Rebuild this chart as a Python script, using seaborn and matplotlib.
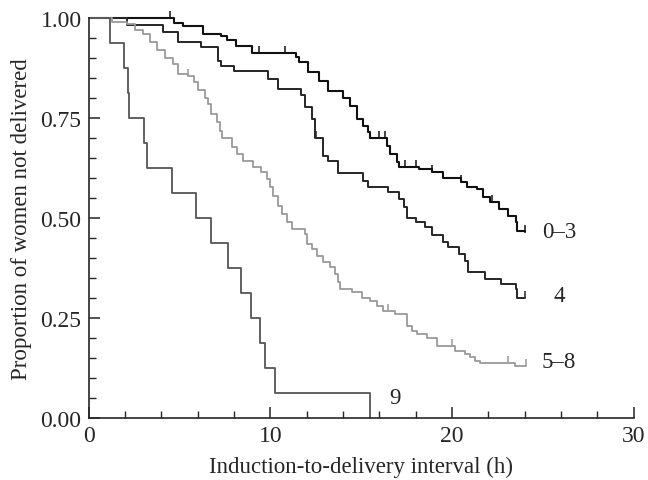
import numpy as np
import pandas as pd
import matplotlib
matplotlib.use("Agg")
import matplotlib.pyplot as plt
import seaborn as sns

# Kaplan-Meier step points (time in h, proportion not delivered)
t_03 = [0, 4.7, 5.2, 6.3, 7.3, 7.6, 8.1, 9.0, 11.4, 11.6, 12.1, 12.7, 13.2, 14.0, 14.4, 14.75,
        15.1, 15.4, 15.5, 16.4, 16.6, 16.95, 17.1, 18.2, 18.9, 19.5, 20.5, 20.8, 21.4, 21.7,
        22.1, 22.6, 23.1, 23.5, 23.6, 24.0]
s_03 = [1.0, 0.988, 0.98, 0.96, 0.955, 0.945, 0.93, 0.913, 0.902, 0.89, 0.865, 0.843, 0.818,
        0.80, 0.78, 0.748, 0.73, 0.715, 0.70, 0.68, 0.66, 0.64, 0.628, 0.623, 0.614, 0.60,
        0.589, 0.578, 0.5725, 0.5525, 0.54, 0.5225, 0.506, 0.49, 0.468, 0.465]
c_03 = [4.5, 9.4, 10.8, 16.0, 16.3, 17.4, 18.0, 18.9, 20.5, 22.2, 24.0]

t_4 = [0, 2.1, 4.1, 4.9, 6.2, 7.1, 7.3, 8.0, 9.9, 10.4, 11.7, 11.9, 12.3, 12.45, 12.9, 13.2,
       13.7, 15.1, 15.4, 16.5, 17.1, 17.35, 17.5, 18.0, 18.5, 18.9, 19.5, 19.8, 20.4, 20.7,
       20.9, 21.8, 22.7, 23.5, 23.6, 24.0]
s_4 = [1.0, 0.983, 0.965, 0.94, 0.927, 0.893, 0.88, 0.868, 0.8475, 0.8225, 0.808, 0.778,
       0.7475, 0.70, 0.656, 0.643, 0.612, 0.593, 0.578, 0.566, 0.5475, 0.527, 0.50, 0.489,
       0.477, 0.458, 0.44, 0.427, 0.41, 0.393, 0.366, 0.3475, 0.335, 0.3225, 0.30, 0.30]
c_4 = [12.5, 24.0]

t_58 = [0, 1.3, 2.1, 2.55, 3.0, 3.4, 3.75, 4.2, 4.65, 4.95, 5.5, 5.8, 6.0, 6.4, 6.6, 6.72,
        7.05, 7.23, 7.33, 7.88, 8.15, 8.5, 9.06, 9.5, 9.8, 9.98, 10.17, 10.44, 10.63, 10.9,
        11.18, 11.9, 12.0, 12.28, 12.55, 12.9, 13.28, 13.56, 13.74, 13.83, 14.48, 15.03,
        15.5, 15.85, 16.2, 16.86, 17.5, 17.78, 18.05, 18.6, 19.15, 20.16, 20.7, 20.98,
        21.26, 21.53, 23.45, 24.07]
s_58 = [1.0, 0.99, 0.985, 0.97, 0.96, 0.94, 0.92, 0.90, 0.884, 0.86, 0.855, 0.84, 0.82, 0.80,
        0.784, 0.76, 0.739, 0.718, 0.70, 0.677, 0.66, 0.643, 0.627, 0.614, 0.5975, 0.577,
        0.556, 0.53, 0.51, 0.489, 0.4725, 0.46, 0.435, 0.4225, 0.406, 0.389, 0.377, 0.36,
        0.339, 0.3225, 0.314, 0.30, 0.293, 0.281, 0.268, 0.26, 0.231, 0.218, 0.21, 0.20,
        0.181, 0.168, 0.16, 0.152, 0.143, 0.137, 0.131, 0.131]
c_58 = [5.5, 16.5, 20.0, 23.1, 24.07]

t_9 = [0, 1.2, 1.95, 2.15, 2.2, 3.05, 3.2, 4.6, 5.9, 6.75, 7.65, 8.4, 8.95, 9.45, 9.7, 10.25, 15.5]
s_9 = [1.0, 0.9375, 0.875, 0.8125, 0.75, 0.6875, 0.625, 0.5625, 0.5, 0.4375, 0.375, 0.3125,
       0.25, 0.1875, 0.125, 0.0625, 0.0]
c_9 = []

groups = ["0–3", "4", "5–8", "9"]
colors = {"0–3": "#111111", "4": "#262626", "5–8": "#9a9a9a", "9": "#555555"}
widths = {"0–3": 1.5, "4": 1.4, "5–8": 1.3, "9": 1.3}

series = {"0–3": (t_03, s_03, c_03), "4": (t_4, s_4, c_4),
          "5–8": (t_58, s_58, c_58), "9": (t_9, s_9, c_9)}

sns.set_style("ticks")
plt.rcParams["font.family"] = ["Liberation Serif", "DejaVu Serif"]

fig = plt.figure(figsize=(6.48, 4.81), dpi=100)
ax = fig.add_axes([0.1366, 0.129, 0.8414, 0.8315])

for g in groups:
    t, s, c = series[g]
    d = pd.DataFrame({"time": t, "surv": s})
    sns.lineplot(data=d, x="time", y="surv", ax=ax, drawstyle="steps-post",
                 color=colors[g], lw=widths[g], estimator=None, clip_on=False)
    if c:
        ts, ss = np.array(t), np.array(s)
        cy = [ss[np.searchsorted(ts, ci, side="right") - 1] for ci in c]
        ax.plot(c, cy, ls="none", marker=2, ms=5, mew=1.1, color=colors[g], clip_on=False)

# curve labels
fs = 16.5
ax.text(25.9, 0.465, "0–3", ha="center", va="center", fontsize=fs)
ax.text(25.9, 0.305, "4", ha="center", va="center", fontsize=fs)
ax.text(25.9, 0.14, "5–8", ha="center", va="center", fontsize=fs)
ax.text(16.85, 0.05, "9", ha="center", va="center", fontsize=fs)

ax.set_xlim(0, 30)
ax.set_ylim(0, 1.0)
ax.set_xticks([0, 10, 20, 30])
ax.set_xticks(np.arange(0, 31, 2), minor=True)
ax.set_yticks([0, 0.25, 0.5, 0.75, 1.0])
ax.set_yticks(np.arange(0, 1.001, 0.05), minor=True)
ax.set_yticklabels(["0.00", "0.25", "0.50", "0.75", "1.00"])
ax.tick_params(which="major", direction="in", length=8, width=1.1, labelsize=17, pad=5)
ax.tick_params(which="minor", direction="in", length=5, width=1.0)
ax.set_xlabel("Induction-to-delivery interval (h)", fontsize=fs, labelpad=7)
ax.set_ylabel("Proportion of women not delivered", fontsize=fs, labelpad=6)
sns.despine(ax=ax)
for sp in ["left", "bottom"]:
    ax.spines[sp].set_linewidth(1.2)

fig.savefig("out.png", dpi=100)
